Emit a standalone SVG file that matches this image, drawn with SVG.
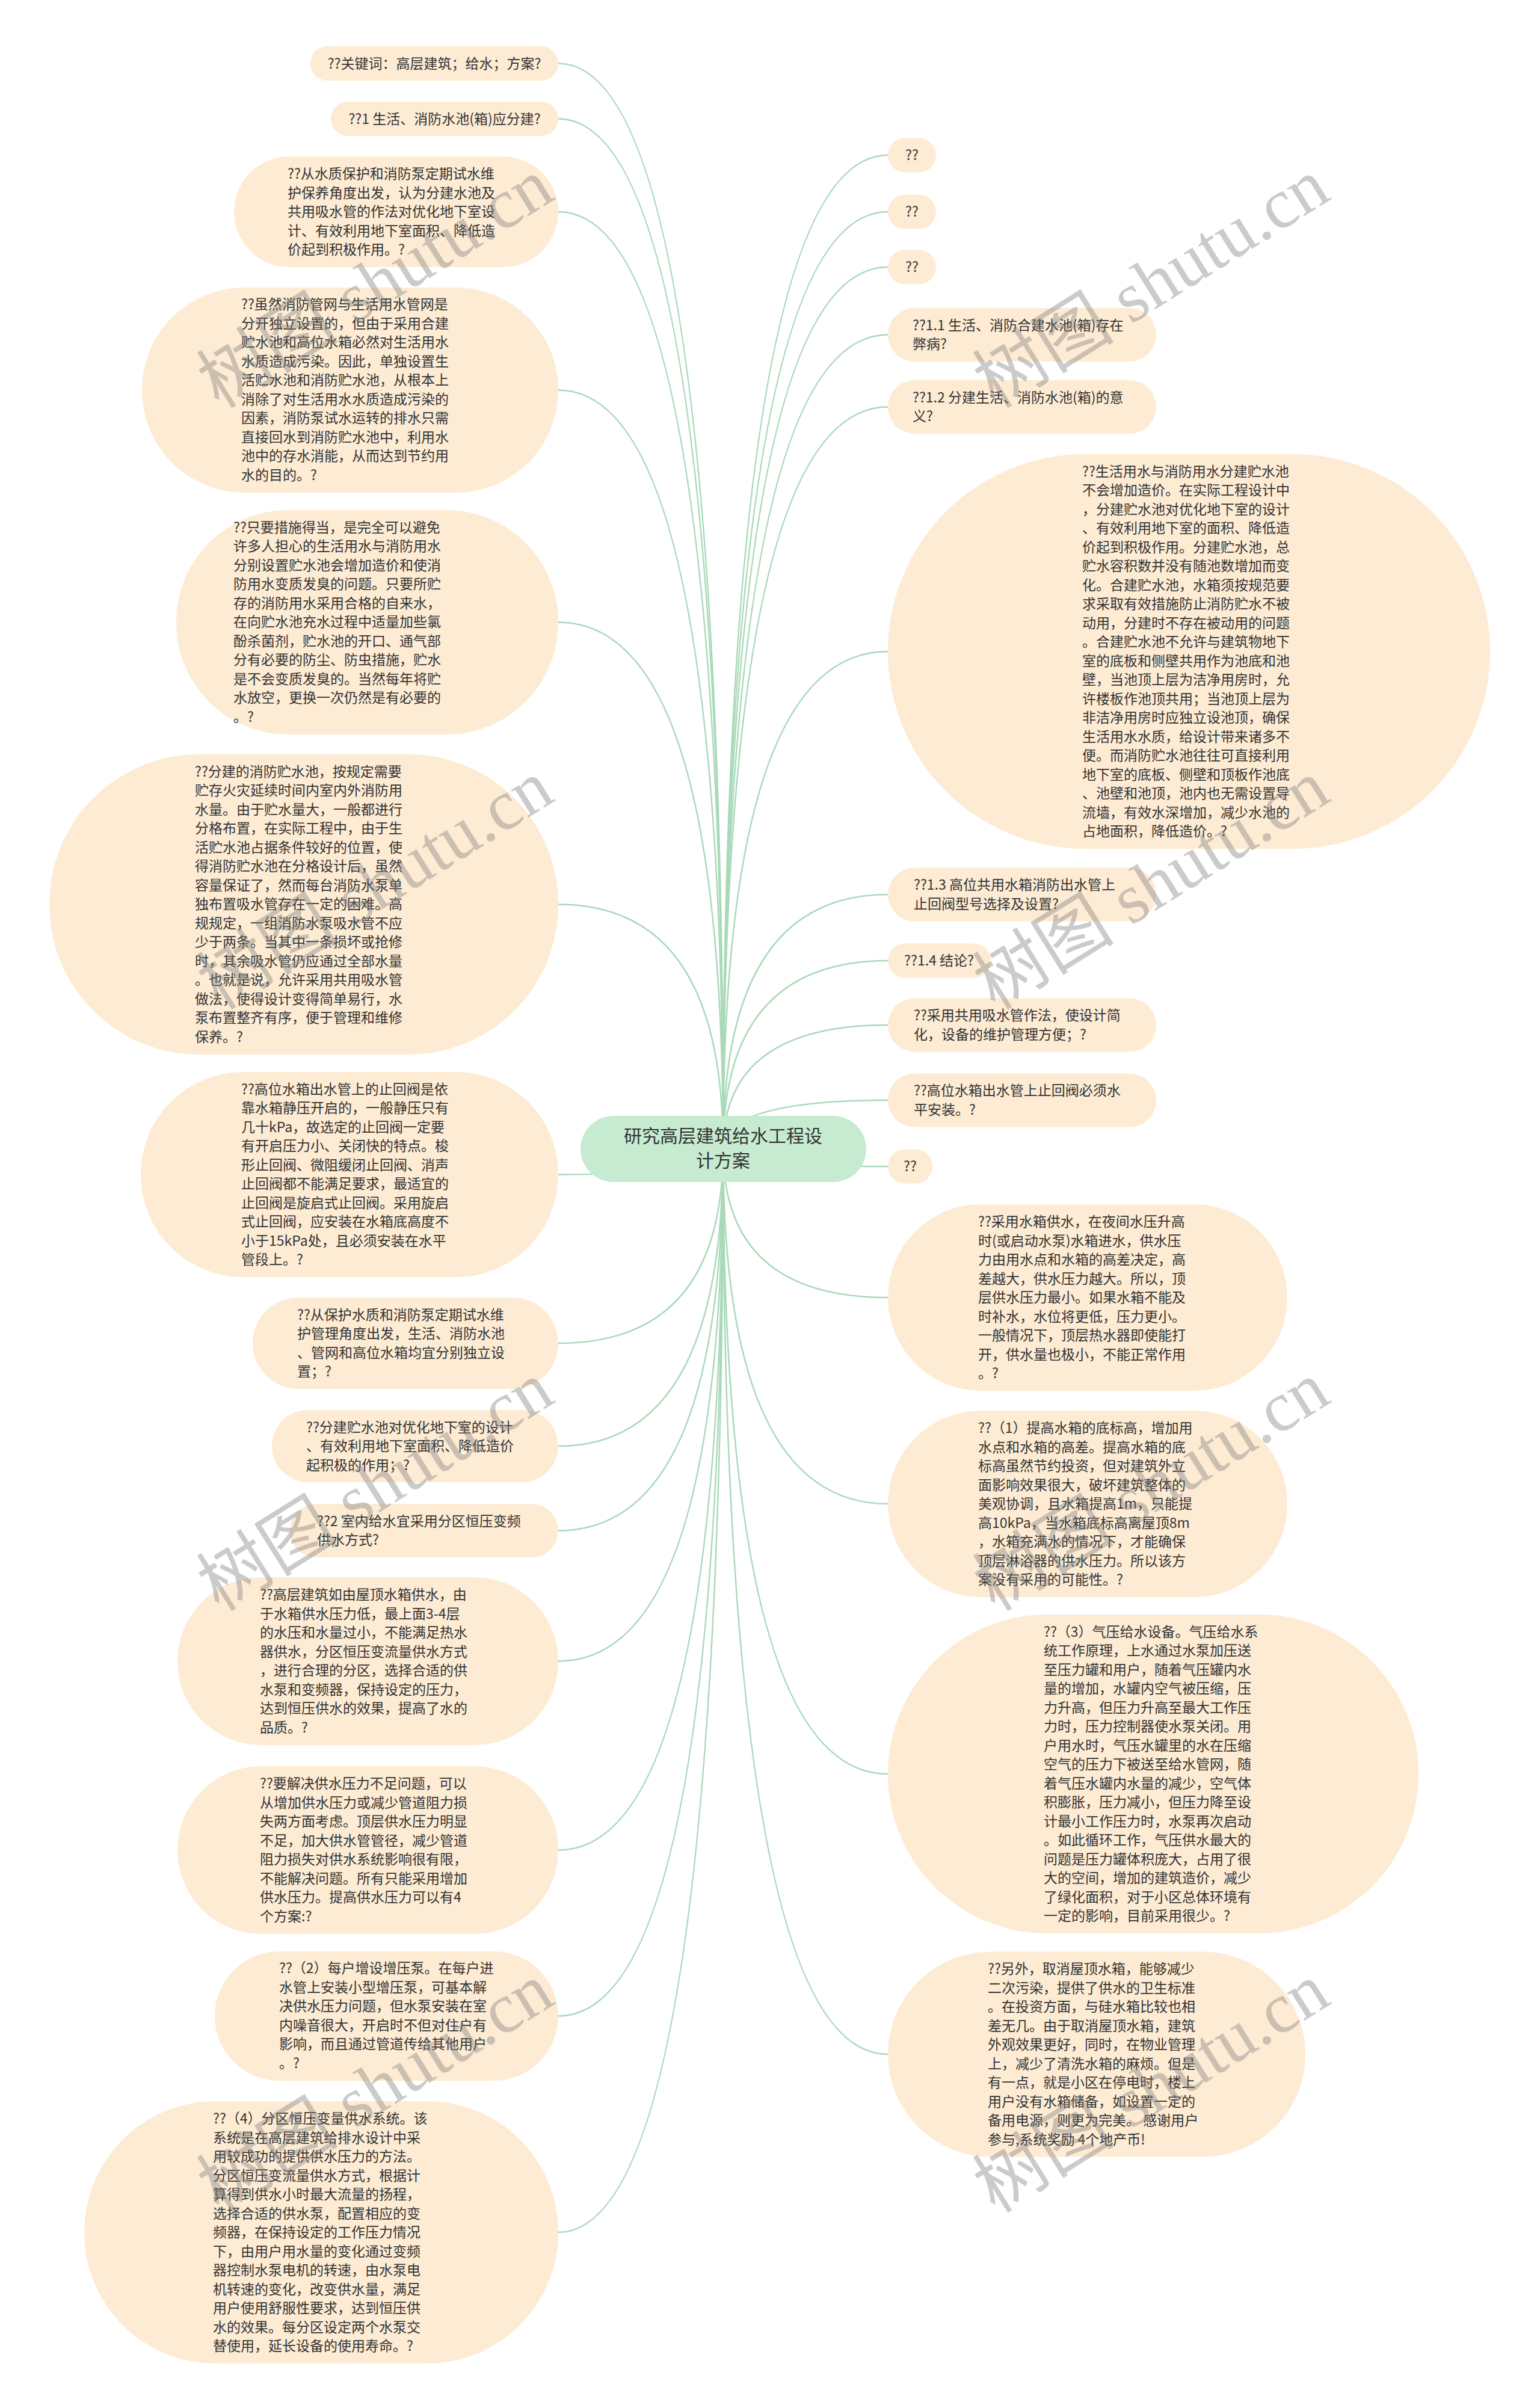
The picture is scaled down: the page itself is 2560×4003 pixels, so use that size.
<svg xmlns="http://www.w3.org/2000/svg" width="2560" height="4003" viewBox="0 0 2560 4003">
<style>
.n{fill:#fdebd3}
.t{font-family:"Noto Sans CJK SC","Noto Sans",sans-serif;font-size:23px;fill:#333}
.c{text-anchor:middle}
.e{fill:none;stroke:#a9d9b8;stroke-width:2.5}
.w{font-size:118px;fill:#7f7f7f;opacity:0.4;text-anchor:middle}
</style>
<rect width="2560" height="4003" fill="#ffffff"/>
<g id="connectors">
<path class="e" d="M1202 1910 Q1202 105.5 928 105.5"/>
<path class="e" d="M1202 1910 Q1202 197.5 928 197.5"/>
<path class="e" d="M1202 1910 Q1202 352 928 352"/>
<path class="e" d="M1202 1910 Q1202 648.5 928 648.5"/>
<path class="e" d="M1202 1910 Q1202 1034.5 928 1034.5"/>
<path class="e" d="M1202 1910 Q1202 1503.5 928 1503.5"/>
<path class="e" d="M1202 1910 Q1202 1952.5 928 1952.5"/>
<path class="e" d="M1202 1910 Q1202 2233 928 2233"/>
<path class="e" d="M1202 1910 Q1202 2404 928 2404"/>
<path class="e" d="M1202 1910 Q1202 2544.5 928 2544.5"/>
<path class="e" d="M1202 1910 Q1202 2761.5 928 2761.5"/>
<path class="e" d="M1202 1910 Q1202 3075.5 928 3075.5"/>
<path class="e" d="M1202 1910 Q1202 3351.5 928 3351.5"/>
<path class="e" d="M1202 1910 Q1202 3711 928 3711"/>
<path class="e" d="M1202 1910 Q1202 258 1476 258"/>
<path class="e" d="M1202 1910 Q1202 352 1476 352"/>
<path class="e" d="M1202 1910 Q1202 444 1476 444"/>
<path class="e" d="M1202 1910 Q1202 556.5 1476 556.5"/>
<path class="e" d="M1202 1910 Q1202 676.5 1476 676.5"/>
<path class="e" d="M1202 1910 Q1202 1083 1476 1083"/>
<path class="e" d="M1202 1910 Q1202 1487 1476 1487"/>
<path class="e" d="M1202 1910 Q1202 1597 1476 1597"/>
<path class="e" d="M1202 1910 Q1202 1704 1476 1704"/>
<path class="e" d="M1202 1910 Q1202 1829 1476 1829"/>
<path class="e" d="M1202 1910 Q1202 1939 1476 1939"/>
<path class="e" d="M1202 1910 Q1202 2157 1476 2157"/>
<path class="e" d="M1202 1910 Q1202 2500 1476 2500"/>
<path class="e" d="M1202 1910 Q1202 2949 1476 2949"/>
<path class="e" d="M1202 1910 Q1202 3415 1476 3415"/>
</g>
<g id="root">
<rect x="965" y="1855" width="475" height="110" rx="55" fill="#c6ebd0"/>
<text x="1202" y="1899" text-anchor="middle" style="font-family:'Noto Sans CJK SC',sans-serif;font-size:30px;fill:#333"><tspan x="1202">研究高层建筑给水工程设</tspan><tspan x="1202" dy="41">计方案</tspan></text>
</g>
<g id="L1"><rect class="n" x="516" y="77" width="412" height="57" rx="28.5"/><text class="t c" x="722" y="113.5">??关键词：高层建筑；给水；方案?</text></g>
<g id="L2"><rect class="n" x="550" y="169" width="378" height="57" rx="28.5"/><text class="t c" x="739" y="205.5">??1 生活、消防水池(箱)应分建?</text></g>
<g id="L3"><rect class="n" x="389" y="260" width="539" height="184" rx="92"/><text class="t" x="478" y="297"><tspan x="478">??从水质保护和消防泵定期试水维</tspan><tspan x="478" dy="31.5">护保养角度出发，认为分建水池及</tspan><tspan x="478" dy="31.5">共用吸水管的作法对优化地下室设</tspan><tspan x="478" dy="31.5">计、有效利用地下室面积、降低造</tspan><tspan x="478" dy="31.5">价起到积极作用。?</tspan></text></g>
<g id="L4"><rect class="n" x="236" y="478" width="692" height="341" rx="170"/><text class="t" x="401" y="514.25"><tspan x="401">??虽然消防管网与生活用水管网是</tspan><tspan x="401" dy="31.5">分开独立设置的，但由于采用合建</tspan><tspan x="401" dy="31.5">贮水池和高位水箱必然对生活用水</tspan><tspan x="401" dy="31.5">水质造成污染。因此，单独设置生</tspan><tspan x="401" dy="31.5">活贮水池和消防贮水池，从根本上</tspan><tspan x="401" dy="31.5">消除了对生活用水水质造成污染的</tspan><tspan x="401" dy="31.5">因素，消防泵试水运转的排水只需</tspan><tspan x="401" dy="31.5">直接回水到消防贮水池中，利用水</tspan><tspan x="401" dy="31.5">池中的存水消能，从而达到节约用</tspan><tspan x="401" dy="31.5">水的目的。?</tspan></text></g>
<g id="L5"><rect class="n" x="293" y="848" width="635" height="373" rx="186"/><text class="t" x="388" y="884.5"><tspan x="388">??只要措施得当，是完全可以避免</tspan><tspan x="388" dy="31.5">许多人担心的生活用水与消防用水</tspan><tspan x="388" dy="31.5">分别设置贮水池会增加造价和使消</tspan><tspan x="388" dy="31.5">防用水变质发臭的问题。只要所贮</tspan><tspan x="388" dy="31.5">存的消防用水采用合格的自来水，</tspan><tspan x="388" dy="31.5">在向贮水池充水过程中适量加些氯</tspan><tspan x="388" dy="31.5">酚杀菌剂，贮水池的开口、通气部</tspan><tspan x="388" dy="31.5">分有必要的防尘、防虫措施，贮水</tspan><tspan x="388" dy="31.5">是不会变质发臭的。当然每年将贮</tspan><tspan x="388" dy="31.5">水放空，更换一次仍然是有必要的</tspan><tspan x="388" dy="31.5">。?</tspan></text></g>
<g id="L6"><rect class="n" x="82" y="1254" width="846" height="499" rx="249"/><text class="t" x="324" y="1290.5"><tspan x="324">??分建的消防贮水池，按规定需要</tspan><tspan x="324" dy="31.5">贮存火灾延续时间内室内外消防用</tspan><tspan x="324" dy="31.5">水量。由于贮水量大，一般都进行</tspan><tspan x="324" dy="31.5">分格布置，在实际工程中，由于生</tspan><tspan x="324" dy="31.5">活贮水池占据条件较好的位置，使</tspan><tspan x="324" dy="31.5">得消防贮水池在分格设计后，虽然</tspan><tspan x="324" dy="31.5">容量保证了，然而每台消防水泵单</tspan><tspan x="324" dy="31.5">独布置吸水管存在一定的困难。高</tspan><tspan x="324" dy="31.5">规规定，一组消防水泵吸水管不应</tspan><tspan x="324" dy="31.5">少于两条。当其中一条损坏或抢修</tspan><tspan x="324" dy="31.5">时，其余吸水管仍应通过全部水量</tspan><tspan x="324" dy="31.5">。也就是说，允许采用共用吸水管</tspan><tspan x="324" dy="31.5">做法，使得设计变得简单易行，水</tspan><tspan x="324" dy="31.5">泵布置整齐有序，便于管理和维修</tspan><tspan x="324" dy="31.5">保养。?</tspan></text></g>
<g id="L7"><rect class="n" x="234" y="1782" width="694" height="341" rx="170"/><text class="t" x="401" y="1818.75"><tspan x="401">??高位水箱出水管上的止回阀是依</tspan><tspan x="401" dy="31.5">靠水箱静压开启的，一般静压只有</tspan><tspan x="401" dy="31.5">几十kPa，故选定的止回阀一定要</tspan><tspan x="401" dy="31.5">有开启压力小、关闭快的特点。梭</tspan><tspan x="401" dy="31.5">形止回阀、微阻缓闭止回阀、消声</tspan><tspan x="401" dy="31.5">止回阀都不能满足要求，最适宜的</tspan><tspan x="401" dy="31.5">止回阀是旋启式止回阀。采用旋启</tspan><tspan x="401" dy="31.5">式止回阀，应安装在水箱底高度不</tspan><tspan x="401" dy="31.5">小于15kPa处，且必须安装在水平</tspan><tspan x="401" dy="31.5">管段上。?</tspan></text></g>
<g id="L8"><rect class="n" x="420" y="2157" width="508" height="152" rx="76"/><text class="t" x="494" y="2193.75"><tspan x="494">??从保护水质和消防泵定期试水维</tspan><tspan x="494" dy="31.5">护管理角度出发，生活、消防水池</tspan><tspan x="494" dy="31.5">、管网和高位水箱均宜分别独立设</tspan><tspan x="494" dy="31.5">置；?</tspan></text></g>
<g id="L9"><rect class="n" x="452" y="2344" width="476" height="120" rx="60"/><text class="t" x="509" y="2380.5"><tspan x="509">??分建贮水池对优化地下室的设计</tspan><tspan x="509" dy="31.5">、有效利用地下室面积、降低造价</tspan><tspan x="509" dy="31.5">起积极的作用；?</tspan></text></g>
<g id="L10"><rect class="n" x="482" y="2500" width="446" height="89" rx="44.5"/><text class="t" x="527" y="2536.9"><tspan x="527">??2 室内给水宜采用分区恒压变频</tspan><tspan x="527" dy="31.5">供水方式?</tspan></text></g>
<g id="L11"><rect class="n" x="295" y="2622" width="633" height="279" rx="139.5"/><text class="t" x="432" y="2659.4"><tspan x="432">??高层建筑如由屋顶水箱供水，由</tspan><tspan x="432" dy="31.5">于水箱供水压力低，最上面3-4层</tspan><tspan x="432" dy="31.5">的水压和水量过小，不能满足热水</tspan><tspan x="432" dy="31.5">器供水，分区恒压变流量供水方式</tspan><tspan x="432" dy="31.5">，进行合理的分区，选择合适的供</tspan><tspan x="432" dy="31.5">水泵和变频器，保持设定的压力，</tspan><tspan x="432" dy="31.5">达到恒压供水的效果，提高了水的</tspan><tspan x="432" dy="31.5">品质。?</tspan></text></g>
<g id="L12"><rect class="n" x="295" y="2936" width="633" height="279" rx="139.5"/><text class="t" x="432" y="2973.25"><tspan x="432">??要解决供水压力不足问题，可以</tspan><tspan x="432" dy="31.5">从增加供水压力或减少管道阻力损</tspan><tspan x="432" dy="31.5">失两方面考虑。顶层供水压力明显</tspan><tspan x="432" dy="31.5">不足，加大供水管管径，减少管道</tspan><tspan x="432" dy="31.5">阻力损失对供水系统影响很有限，</tspan><tspan x="432" dy="31.5">不能解决问题。所有只能采用增加</tspan><tspan x="432" dy="31.5">供水压力。提高供水压力可以有4</tspan><tspan x="432" dy="31.5">个方案:?</tspan></text></g>
<g id="L13"><rect class="n" x="357" y="3244" width="571" height="215" rx="107.5"/><text class="t" x="464" y="3280.25"><tspan x="464">??（2）每户增设增压泵。在每户进</tspan><tspan x="464" dy="31.5">水管上安装小型增压泵，可基本解</tspan><tspan x="464" dy="31.5">决供水压力问题，但水泵安装在室</tspan><tspan x="464" dy="31.5">内噪音很大，开启时不但对住户有</tspan><tspan x="464" dy="31.5">影响，而且通过管道传给其他用户</tspan><tspan x="464" dy="31.5">。?</tspan></text></g>
<g id="L14"><rect class="n" x="140" y="3493" width="788" height="436" rx="218"/><text class="t" x="354" y="3530"><tspan x="354">??（4）分区恒压变量供水系统。该</tspan><tspan x="354" dy="31.5">系统是在高层建筑给排水设计中采</tspan><tspan x="354" dy="31.5">用较成功的提供供水压力的方法。</tspan><tspan x="354" dy="31.5">分区恒压变流量供水方式，根据计</tspan><tspan x="354" dy="31.5">算得到供水小时最大流量的扬程，</tspan><tspan x="354" dy="31.5">选择合适的供水泵，配置相应的变</tspan><tspan x="354" dy="31.5">频器，在保持设定的工作压力情况</tspan><tspan x="354" dy="31.5">下，由用户用水量的变化通过变频</tspan><tspan x="354" dy="31.5">器控制水泵电机的转速，由水泵电</tspan><tspan x="354" dy="31.5">机转速的变化，改变供水量，满足</tspan><tspan x="354" dy="31.5">用户使用舒服性要求，达到恒压供</tspan><tspan x="354" dy="31.5">水的效果。每分区设定两个水泵交</tspan><tspan x="354" dy="31.5">替使用，延长设备的使用寿命。?</tspan></text></g>
<g id="R1"><rect class="n" x="1476" y="229.5" width="80" height="57" rx="28.5"/><text class="t c" x="1516" y="266">??</text></g>
<g id="R2"><rect class="n" x="1476" y="323.5" width="80" height="57" rx="28.5"/><text class="t c" x="1516" y="360">??</text></g>
<g id="R3"><rect class="n" x="1476" y="415.5" width="80" height="57" rx="28.5"/><text class="t c" x="1516" y="452">??</text></g>
<g id="R4"><rect class="n" x="1476" y="512" width="446" height="89" rx="44.5"/><text class="t" x="1517" y="548.65"><tspan x="1517">??1.1 生活、消防合建水池(箱)存在</tspan><tspan x="1517" dy="31.5">弊病?</tspan></text></g>
<g id="R5"><rect class="n" x="1476" y="632" width="446" height="89" rx="44.5"/><text class="t" x="1517" y="668.65"><tspan x="1517">??1.2 分建生活、消防水池(箱)的意</tspan><tspan x="1517" dy="31.5">义?</tspan></text></g>
<g id="R6"><rect class="n" x="1476" y="755" width="1001" height="656" rx="328"/><text class="t" x="1799" y="791.75"><tspan x="1799">??生活用水与消防用水分建贮水池</tspan><tspan x="1799" dy="31.5">不会增加造价。在实际工程设计中</tspan><tspan x="1799" dy="31.5">，分建贮水池对优化地下室的设计</tspan><tspan x="1799" dy="31.5">、有效利用地下室的面积、降低造</tspan><tspan x="1799" dy="31.5">价起到积极作用。分建贮水池，总</tspan><tspan x="1799" dy="31.5">贮水容积数并没有随池数增加而变</tspan><tspan x="1799" dy="31.5">化。合建贮水池，水箱须按规范要</tspan><tspan x="1799" dy="31.5">求采取有效措施防止消防贮水不被</tspan><tspan x="1799" dy="31.5">动用，分建时不存在被动用的问题</tspan><tspan x="1799" dy="31.5">。合建贮水池不允许与建筑物地下</tspan><tspan x="1799" dy="31.5">室的底板和侧壁共用作为池底和池</tspan><tspan x="1799" dy="31.5">壁，当池顶上层为洁净用房时，允</tspan><tspan x="1799" dy="31.5">许楼板作池顶共用；当池顶上层为</tspan><tspan x="1799" dy="31.5">非洁净用房时应独立设池顶，确保</tspan><tspan x="1799" dy="31.5">生活用水水质，给设计带来诸多不</tspan><tspan x="1799" dy="31.5">便。而消防贮水池往往可直接利用</tspan><tspan x="1799" dy="31.5">地下室的底板、侧壁和顶板作池底</tspan><tspan x="1799" dy="31.5">、池壁和池顶，池内也无需设置导</tspan><tspan x="1799" dy="31.5">流墙，有效水深增加，减少水池的</tspan><tspan x="1799" dy="31.5">占地面积，降低造价。?</tspan></text></g>
<g id="R7"><rect class="n" x="1476" y="1442.5" width="446" height="89" rx="44.5"/><text class="t" x="1519" y="1479.25"><tspan x="1519">??1.3 高位共用水箱消防出水管上</tspan><tspan x="1519" dy="31.5">止回阀型号选择及设置?</tspan></text></g>
<g id="R8"><rect class="n" x="1476" y="1568.5" width="171" height="57" rx="28.5"/><text class="t c" x="1561" y="1605">??1.4 结论?</text></g>
<g id="R9"><rect class="n" x="1476" y="1659.5" width="446" height="89" rx="44.5"/><text class="t" x="1519" y="1696.25"><tspan x="1519">??采用共用吸水管作法，使设计简</tspan><tspan x="1519" dy="31.5">化，设备的维护管理方便；?</tspan></text></g>
<g id="R10"><rect class="n" x="1476" y="1784.5" width="446" height="89" rx="44.5"/><text class="t" x="1519" y="1821.25"><tspan x="1519">??高位水箱出水管上止回阀必须水</tspan><tspan x="1519" dy="31.5">平安装。?</tspan></text></g>
<g id="R11"><rect class="n" x="1476" y="1910.5" width="74" height="57" rx="28.5"/><text class="t c" x="1513" y="1947">??</text></g>
<g id="R12"><rect class="n" x="1476" y="2002" width="664" height="310" rx="155"/><text class="t" x="1626" y="2039"><tspan x="1626">??采用水箱供水，在夜间水压升高</tspan><tspan x="1626" dy="31.5">时(或启动水泵)水箱进水，供水压</tspan><tspan x="1626" dy="31.5">力由用水点和水箱的高差决定，高</tspan><tspan x="1626" dy="31.5">差越大，供水压力越大。所以，顶</tspan><tspan x="1626" dy="31.5">层供水压力最小。如果水箱不能及</tspan><tspan x="1626" dy="31.5">时补水，水位将更低，压力更小。</tspan><tspan x="1626" dy="31.5">一般情况下，顶层热水器即使能打</tspan><tspan x="1626" dy="31.5">开，供水量也极小，不能正常作用</tspan><tspan x="1626" dy="31.5">。?</tspan></text></g>
<g id="R13"><rect class="n" x="1476" y="2345" width="664" height="310" rx="155"/><text class="t" x="1626" y="2382"><tspan x="1626">??（1）提高水箱的底标高，增加用</tspan><tspan x="1626" dy="31.5">水点和水箱的高差。提高水箱的底</tspan><tspan x="1626" dy="31.5">标高虽然节约投资，但对建筑外立</tspan><tspan x="1626" dy="31.5">面影响效果很大，破坏建筑整体的</tspan><tspan x="1626" dy="31.5">美观协调，且水箱提高1m，只能提</tspan><tspan x="1626" dy="31.5">高10kPa，当水箱底标高离屋顶8m</tspan><tspan x="1626" dy="31.5">，水箱充满水的情况下，才能确保</tspan><tspan x="1626" dy="31.5">顶层淋浴器的供水压力。所以该方</tspan><tspan x="1626" dy="31.5">案没有采用的可能性。?</tspan></text></g>
<g id="R14"><rect class="n" x="1476" y="2684" width="882" height="530" rx="265"/><text class="t" x="1735" y="2720.75"><tspan x="1735">??（3）气压给水设备。气压给水系</tspan><tspan x="1735" dy="31.5">统工作原理，上水通过水泵加压送</tspan><tspan x="1735" dy="31.5">至压力罐和用户，随着气压罐内水</tspan><tspan x="1735" dy="31.5">量的增加，水罐内空气被压缩，压</tspan><tspan x="1735" dy="31.5">力升高，但压力升高至最大工作压</tspan><tspan x="1735" dy="31.5">力时，压力控制器使水泵关闭。用</tspan><tspan x="1735" dy="31.5">户用水时，气压水罐里的水在压缩</tspan><tspan x="1735" dy="31.5">空气的压力下被送至给水管网，随</tspan><tspan x="1735" dy="31.5">着气压水罐内水量的减少，空气体</tspan><tspan x="1735" dy="31.5">积膨胀，压力减小，但压力降至设</tspan><tspan x="1735" dy="31.5">计最小工作压力时，水泵再次启动</tspan><tspan x="1735" dy="31.5">。如此循环工作，气压供水最大的</tspan><tspan x="1735" dy="31.5">问题是压力罐体积庞大，占用了很</tspan><tspan x="1735" dy="31.5">大的空间，增加的建筑造价，减少</tspan><tspan x="1735" dy="31.5">了绿化面积，对于小区总体环境有</tspan><tspan x="1735" dy="31.5">一定的影响，目前采用很少。?</tspan></text></g>
<g id="R15"><rect class="n" x="1476" y="3244.5" width="694" height="341" rx="170.5"/><text class="t" x="1642" y="3281.25"><tspan x="1642">??另外，取消屋顶水箱，能够减少</tspan><tspan x="1642" dy="31.5">二次污染，提供了供水的卫生标准</tspan><tspan x="1642" dy="31.5">。在投资方面，与硅水箱比较也相</tspan><tspan x="1642" dy="31.5">差无几。由于取消屋顶水箱，建筑</tspan><tspan x="1642" dy="31.5">外观效果更好，同时，在物业管理</tspan><tspan x="1642" dy="31.5">上，减少了清洗水箱的麻烦。但是</tspan><tspan x="1642" dy="31.5">有一点，就是小区在停电时，楼上</tspan><tspan x="1642" dy="31.5">用户没有水箱储备，如设置一定的</tspan><tspan x="1642" dy="31.5">备用电源，则更为完美。 感谢用户</tspan><tspan x="1642" dy="31.5">参与,系统奖励 4个地产币!</tspan></text></g>
<g id="watermarks">
<text class="w" transform="translate(645 505) rotate(-32)"><tspan font-family="Noto Sans CJK SC, sans-serif">树图</tspan><tspan font-family="Liberation Serif, serif"> shutu.cn</tspan></text>
<text class="w" transform="translate(1935 505) rotate(-32)"><tspan font-family="Noto Sans CJK SC, sans-serif">树图</tspan><tspan font-family="Liberation Serif, serif"> shutu.cn</tspan></text>
<text class="w" transform="translate(645 1505) rotate(-32)"><tspan font-family="Noto Sans CJK SC, sans-serif">树图</tspan><tspan font-family="Liberation Serif, serif"> shutu.cn</tspan></text>
<text class="w" transform="translate(1935 1505) rotate(-32)"><tspan font-family="Noto Sans CJK SC, sans-serif">树图</tspan><tspan font-family="Liberation Serif, serif"> shutu.cn</tspan></text>
<text class="w" transform="translate(645 2505) rotate(-32)"><tspan font-family="Noto Sans CJK SC, sans-serif">树图</tspan><tspan font-family="Liberation Serif, serif"> shutu.cn</tspan></text>
<text class="w" transform="translate(1935 2505) rotate(-32)"><tspan font-family="Noto Sans CJK SC, sans-serif">树图</tspan><tspan font-family="Liberation Serif, serif"> shutu.cn</tspan></text>
<text class="w" transform="translate(645 3505) rotate(-32)"><tspan font-family="Noto Sans CJK SC, sans-serif">树图</tspan><tspan font-family="Liberation Serif, serif"> shutu.cn</tspan></text>
<text class="w" transform="translate(1935 3505) rotate(-32)"><tspan font-family="Noto Sans CJK SC, sans-serif">树图</tspan><tspan font-family="Liberation Serif, serif"> shutu.cn</tspan></text>
</g>
</svg>
